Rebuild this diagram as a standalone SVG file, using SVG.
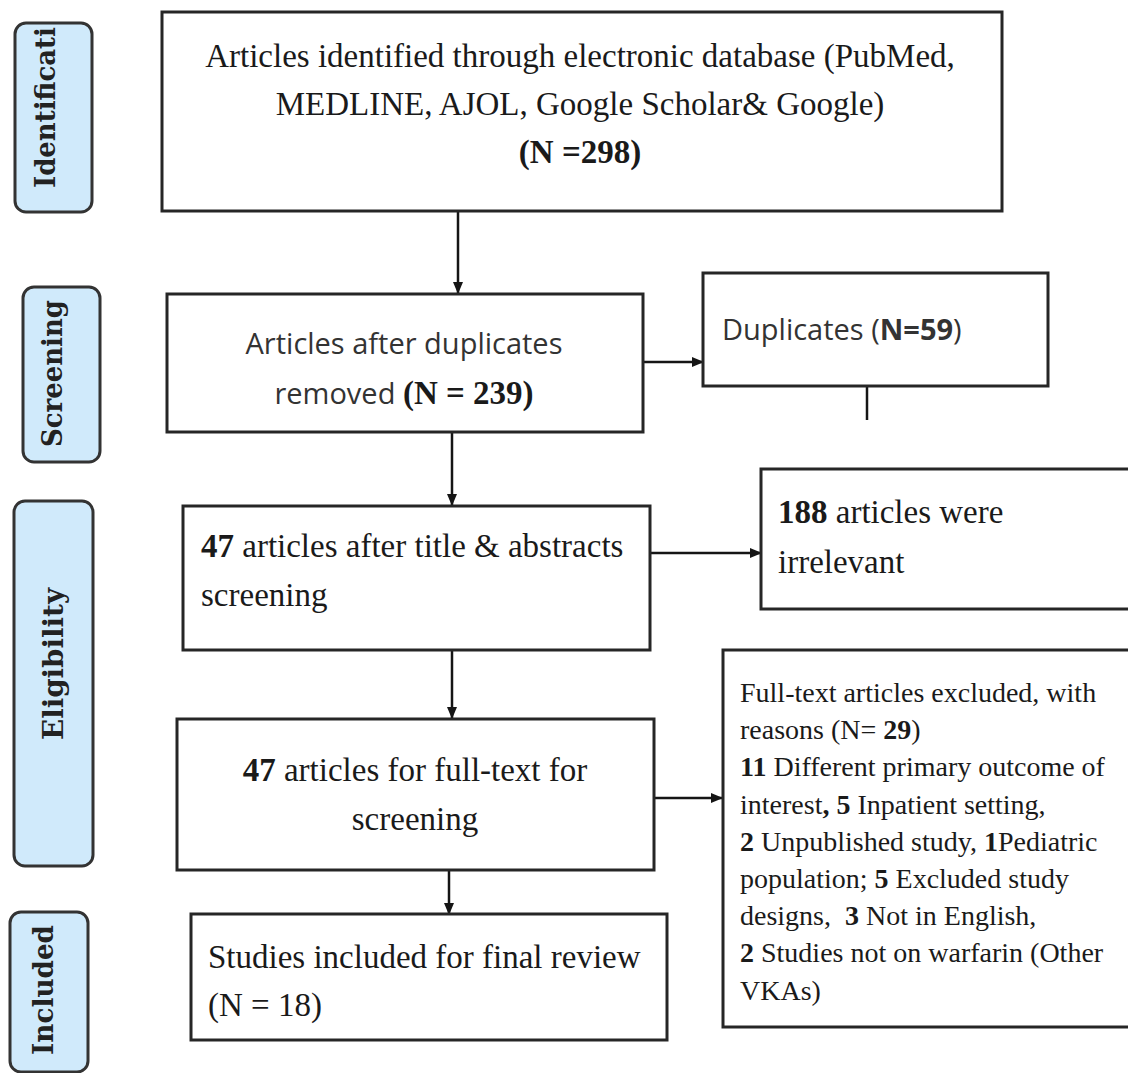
<svg xmlns="http://www.w3.org/2000/svg" width="1128" height="1073" viewBox="0 0 1128 1073">
<style>
.box{fill:#fff;stroke:#262626;stroke-width:3}
.lbl{fill:#d0eafb;stroke:#333;stroke-width:3}
.conn{stroke:#151515;stroke-width:2.5;fill:none}
.serif{font-family:"Liberation Serif","Times New Roman",serif;font-size:33px;fill:#1a1a1a}
.ex{font-family:"Liberation Serif","Times New Roman",serif;font-size:28px;fill:#1a1a1a}
.sans{font-family:"Open Sans","Noto Sans",sans-serif;font-size:29px;fill:#333}
.side{font-family:"DejaVu Serif","Liberation Serif",serif;font-weight:bold;font-size:28px;fill:#222}
.b{font-weight:bold}
</style>
<defs>
<marker id="arr" markerUnits="userSpaceOnUse" markerWidth="12" markerHeight="10" refX="11" refY="5" orient="auto">
<path d="M0,0 L12,5 L0,10 z" fill="#151515"/>
</marker>
</defs>

<g id="label-identification">
<rect class="lbl" x="15" y="23" width="77" height="189" rx="11"/>
<text class="side" transform="translate(55,188) rotate(-90)" textLength="161" lengthAdjust="spacingAndGlyphs">Identificati</text>
</g>
<g id="label-screening">
<rect class="lbl" x="23" y="287" width="77" height="175" rx="11"/>
<text class="side" transform="translate(62,447) rotate(-90)" textLength="147" lengthAdjust="spacingAndGlyphs">Screening</text>
</g>
<g id="label-eligibility">
<rect class="lbl" x="14" y="501" width="79" height="365" rx="11"/>
<text class="side" transform="translate(63,740) rotate(-90)" textLength="152" lengthAdjust="spacingAndGlyphs">Eligibility</text>
</g>
<g id="label-included">
<rect class="lbl" x="10" y="912" width="78" height="160" rx="11"/>
<text class="side" transform="translate(53,1055) rotate(-90)" textLength="130" lengthAdjust="spacingAndGlyphs">Included</text>
</g>

<g id="connectors">
<line class="conn" x1="458" y1="198" x2="458" y2="293" marker-end="url(#arr)"/>
<line class="conn" x1="643" y1="362" x2="703" y2="362" marker-end="url(#arr)"/>
<line class="conn" x1="867" y1="386" x2="867" y2="420"/>
<line class="conn" x1="452" y1="418" x2="452" y2="505" marker-end="url(#arr)"/>
<line class="conn" x1="650" y1="553" x2="761" y2="553" marker-end="url(#arr)"/>
<line class="conn" x1="452" y1="650" x2="452" y2="718" marker-end="url(#arr)"/>
<line class="conn" x1="654" y1="798" x2="722" y2="798" marker-end="url(#arr)"/>
<line class="conn" x1="449" y1="870" x2="449" y2="914" marker-end="url(#arr)"/>
</g>

<g id="node-identified">
<rect class="box" x="162" y="12" width="840" height="199"/>
<text class="serif" text-anchor="middle" x="580" y="67">Articles identified through electronic database (PubMed,</text>
<text class="serif" text-anchor="middle" x="580" y="115">MEDLINE, AJOL, Google Scholar&amp; Google)</text>
<text class="serif b" text-anchor="middle" x="580" y="163">(N =298)</text>
</g>

<g id="node-after-duplicates">
<rect class="box" x="167" y="294" width="476" height="138"/>
<text class="sans" text-anchor="middle" x="404" y="354">Articles after duplicates</text>
<text text-anchor="middle" x="404" y="404"><tspan class="sans">removed </tspan><tspan class="serif b">(N = 239)</tspan></text>
</g>

<g id="node-duplicates">
<rect class="box" x="703" y="273" width="345" height="113"/>
<text class="sans" x="722" y="340">Duplicates (<tspan class="b">N=59</tspan>)</text>
</g>

<g id="node-title-abstract">
<rect class="box" x="183" y="506" width="467" height="144"/>
<text class="serif" x="201" y="557"><tspan class="b">47</tspan> articles after title &amp; abstracts</text>
<text class="serif" x="201" y="606">screening</text>
</g>

<g id="node-irrelevant">
<rect class="box" x="761" y="469" width="380" height="140"/>
<text class="serif" x="778" y="523"><tspan class="b">188</tspan> articles were</text>
<text class="serif" x="778" y="573">irrelevant</text>
</g>

<g id="node-fulltext">
<rect class="box" x="177" y="719" width="477" height="151"/>
<text class="serif" text-anchor="middle" x="415" y="781"><tspan class="b">47</tspan> articles for full-text for</text>
<text class="serif" text-anchor="middle" x="415" y="830">screening</text>
</g>

<g id="node-excluded">
<rect class="box" x="723" y="650" width="420" height="377"/>
<text class="ex" x="740" y="702">Full-text articles excluded, with</text>
<text class="ex" x="740" y="739">reasons (N= <tspan class="b">29</tspan>)</text>
<text class="ex" x="740" y="776"><tspan class="b">11</tspan> Different primary outcome of</text>
<text class="ex" x="740" y="814">interest<tspan class="b">, 5</tspan> Inpatient setting,</text>
<text class="ex" x="740" y="851"><tspan class="b">2</tspan> Unpublished study, <tspan class="b">1</tspan>Pediatric</text>
<text class="ex" x="740" y="888">population; <tspan class="b">5</tspan> Excluded study</text>
<text class="ex" x="740" y="925" xml:space="preserve">designs,  <tspan class="b">3</tspan> Not in English,</text>
<text class="ex" x="740" y="962"><tspan class="b">2</tspan> Studies not on warfarin (Other</text>
<text class="ex" x="740" y="1000">VKAs)</text>
</g>

<g id="node-included">
<rect class="box" x="191" y="914" width="476" height="126"/>
<text class="serif" x="208" y="968">Studies included for final review</text>
<text class="serif" x="208" y="1016">(N = 18)</text>
</g>
</svg>
